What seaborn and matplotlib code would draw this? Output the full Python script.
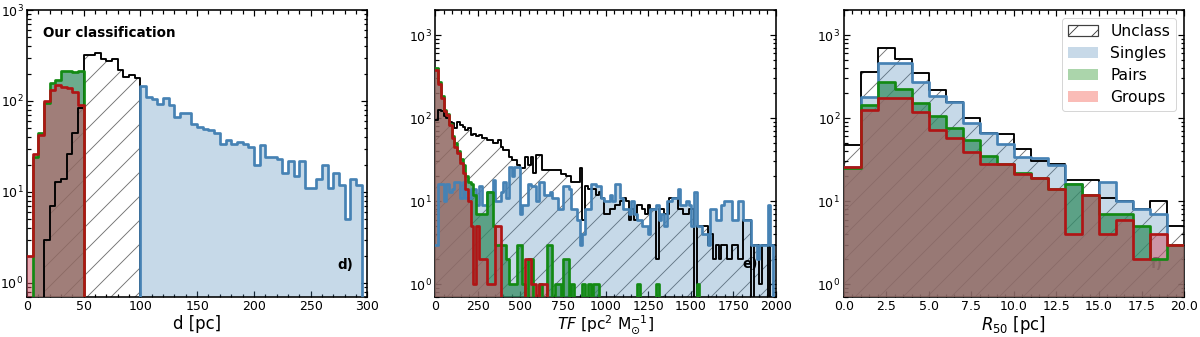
import numpy as np
import matplotlib
matplotlib.use("Agg")
import matplotlib.pyplot as plt
from matplotlib.patches import Patch
from matplotlib.ticker import AutoMinorLocator, LogLocator, NullFormatter
import seaborn as sns

# ---------------- data (counts per bin) ----------------
# panel d: distance, 5 pc bins from 0 to 300
d_bins = (0, 300, 5)
d_unclass = [0, 0, 0, 3, 7, 13, 14, 26, 45, 83,
             320, 320, 340, 287, 275, 287, 218, 185, 193, 178]
d_singles_start = 20  # singles begin at 100 pc
d_singles = [147, 111, 104, 93, 108, 90, 67, 73, 73, 56,
             52, 49, 48, 45, 34, 37, 34, 35, 34, 31,
             20, 33, 24, 24, 23, 16, 22, 15, 22, 11,
             11, 14, 20, 11, 16, 12, 5, 14, 12]
d_pairs = [0, 24, 45, 95, 156, 170, 214, 214, 208, 214]
d_groups = [2, 26, 42, 100, 132, 150, 144, 140, 126, 90]

# panel e: TF, 16 pc^2/Msun bins from 0 to 2000
e_bins = (0, 2000, 16)
e_unclass = [95, 125, 120, 105, 100, 90, 86, 75, 90, 83,
             78, 72, 75, 63, 65, 60, 63, 57, 57, 54,
             54, 50, 50, 55, 45, 41, 41, 34, 31, 31,
             27, 25, 25, 34, 27, 34, 22, 36, 36, 24,
             24, 24, 24, 24, 24, 24, 21, 21, 20, 20,
             17, 17, 17, 25, 6, 15, 14, 14, 14, 12,
             13, 11, 7, 7, 8, 8, 9, 9, 10, 11,
             10, 6, 8, 6, 9, 9, 8, 7, 9, 8,
             8, 2, 8, 8, 7, 7, 11, 11, 11, 8,
             8, 7, 7, 8, 8, 0, 5, 5, 5, 5,
             3, 4, 2, 3, 2, 3, 3, 2, 2, 3,
             3, 2, 2, 6, 6, 6, 0, 3, 3, 1,
             3, 3, 0, 3, 3]
e_singles = [3, 16, 16, 10, 16, 13, 14, 17, 17, 11,
             17, 11, 11, 14, 14, 9, 15, 9, 9, 13,
             13, 18, 10, 10, 13, 17, 11, 26, 20, 26,
             26, 7, 9, 9, 16, 15, 15, 10, 17, 17,
             12, 12, 13, 11, 11, 8, 8, 15, 15, 14,
             8, 8, 6, 3, 4, 8, 8, 16, 16, 15,
             15, 11, 10, 10, 12, 10, 16, 16, 11, 8,
             8, 7, 10, 7, 6, 6, 5, 5, 4, 8,
             8, 9, 6, 7, 5, 10, 10, 11, 11, 14,
             9, 9, 10, 9, 5, 13, 5, 5, 4, 4,
             3, 8, 8, 6, 6, 9, 10, 10, 10, 6,
             6, 10, 10, 6, 6, 6, 3, 3, 2, 3,
             3, 3, 9, 3, 0]
e_pairs = [400, 270, 185, 125, 112, 85, 60, 50, 40, 32,
           27, 20, 17, 16, 12, 7, 7, 7, 7, 13,
           13, 5, 3, 3, 3, 3, 2, 1, 1, 1,
           3, 3, 1, 0, 2, 2, 0, 0, 1, 0,
           0, 3, 3, 0, 1, 1, 0, 2, 2, 0,
           1, 0, 0, 0, 1, 0, 1, 0, 1, 1,
           0, 0, 0, 0, 0, 0, 0, 0, 0, 0,
           0, 0, 0, 0, 1, 0, 0, 0, 0, 0,
           0, 1, 0, 0, 0, 0, 0, 0, 0, 0,
           0, 0, 0, 0, 0, 0, 1]
e_groups = [380, 260, 175, 120, 108, 82, 57, 45, 38, 29,
            22, 14, 10, 5, 1, 5, 2, 2, 2, 1,
            1, 1, 5, 5, 0, 0, 0, 0, 0, 0,
            0, 0, 0, 2, 2, 1, 1, 0, 1, 1,
            1]

# panel f: R50, 1 pc bins from 0 to 20
f_bins = (0, 20, 1)
f_unclass = [47, 360, 690, 520, 345, 215, 157, 99, 66, 64,
             42, 30, 28, 18, 18, 11, 10, 8, 10, 5]
f_singles = [26, 181, 464, 464, 275, 185, 157, 88, 66, 49,
             34, 33, 27, 16, 12, 17, 10, 8, 7, 3]
f_pairs = [25, 143, 275, 221, 150, 106, 75, 55, 35, 28,
           22, 19, 14, 16, 12, 7, 7, 5, 2, 3]
f_groups = [26, 125, 176, 176, 119, 72, 57, 39, 28, 28,
            21, 19, 14, 4, 12, 4, 6, 2, 4, 3]

# ---------------- style ----------------
SINGLES = "#4682b4"
PAIRS = "#138a13"
GROUPS = "#b01515"
SINGLES_FILL = (0.27, 0.51, 0.71, 0.3)
PAIRS_FILL = (0.2, 0.55, 0.38, 0.72)
GROUPS_FILL = (0.83, 0.32, 0.40, 0.5)
HATCH_GREY = (0.45, 0.45, 0.45)

plt.rcParams["hatch.linewidth"] = 0.9


def hist(ax, bins, counts, start=0, **kws):
    lo, hi, width = bins
    mids = np.arange(lo, hi, width) + width / 2
    # one sample per counted object, at the centre of its bin
    values = np.repeat(mids[start:start + len(counts)], counts)
    sns.histplot(x=values, binwidth=width, binrange=(lo, hi),
                 element="step", ax=ax, **kws)


def panel(ax, bins, unclass, singles, pairs, groups, singles_start=0):
    ax.set_yscale("log")
    hist(ax, bins, unclass, color=HATCH_GREY, fill=True, facecolor="none",
         edgecolor=HATCH_GREY, linewidth=0, hatch="/", zorder=1)
    hist(ax, bins, singles, singles_start, color=SINGLES, fill=True,
         facecolor=SINGLES_FILL, edgecolor="none", linewidth=0, zorder=2)
    hist(ax, bins, pairs, color=PAIRS, fill=True, facecolor=PAIRS_FILL,
         edgecolor="none", linewidth=0, zorder=3)
    hist(ax, bins, groups, color=GROUPS, fill=True, facecolor=GROUPS_FILL,
         edgecolor="none", linewidth=0, zorder=4)
    hist(ax, bins, unclass, fill=False, color="black", linewidth=1.9, zorder=5)
    hist(ax, bins, singles, singles_start, fill=False, color=SINGLES,
         linewidth=2.7, zorder=6)
    hist(ax, bins, pairs, fill=False, color=PAIRS, linewidth=2.7, zorder=6.1)
    hist(ax, bins, groups, fill=False, color=GROUPS, linewidth=2.7, zorder=6.2)
    ax.set_ylabel("")


def style_axes(ax, xmax, ymax):
    ax.set_xlim(0, xmax)
    ax.set_ylim(0.7, ymax)
    ax.xaxis.set_minor_locator(AutoMinorLocator(5))
    ax.yaxis.set_major_locator(LogLocator(base=10, numticks=10))
    ax.yaxis.set_minor_locator(LogLocator(base=10, subs=np.arange(2, 10), numticks=20))
    ax.yaxis.set_minor_formatter(NullFormatter())
    ax.tick_params(which="both", direction="in", top=True, right=True,
                   labelsize=12.5, width=1.2)
    ax.tick_params(which="major", length=6)
    ax.tick_params(which="minor", length=3.5)
    for sp in ax.spines.values():
        sp.set_linewidth(1.6)


# 72 dpi so that the single '/' hatch has ~12 px spacing
fig, axes = plt.subplots(1, 3, figsize=(1200 / 72, 337 / 72), dpi=72)
fig.subplots_adjust(left=0.0225, right=0.9867, bottom=0.1187, top=0.9703, wspace=0.2)

ax = axes[0]
panel(ax, d_bins, d_unclass, d_singles, d_pairs, d_groups, d_singles_start)
style_axes(ax, 300, 1000)
ax.set_xlabel("d [pc]", fontsize=16.5, labelpad=2)
ax.text(0.047, 0.92, "Our classification", transform=ax.transAxes,
        fontsize=13.5, fontweight="bold", va="center", zorder=10)
ax.text(0.935, 0.11, "d)", transform=ax.transAxes, fontsize=13.5,
        fontweight="bold", ha="center", va="center", zorder=10)

ax = axes[1]
panel(ax, e_bins, e_unclass, e_singles, e_pairs, e_groups)
style_axes(ax, 2000, 2000)
ax.set_xlabel(r"$TF$ [pc$^2$ M$_{\odot}^{-1}$]", fontsize=15.5, labelpad=0)
ax.text(0.925, 0.115, "e)", transform=ax.transAxes, fontsize=13.5,
        fontweight="bold", ha="center", va="center", zorder=5.5)

ax = axes[2]
panel(ax, f_bins, f_unclass, f_singles, f_pairs, f_groups)
style_axes(ax, 20, 2000)
ax.set_xlabel(r"$R_{50}$ [pc]", fontsize=16.5, labelpad=1)
ax.text(0.92, 0.115, "f)", transform=ax.transAxes, fontsize=13.5,
        fontweight="bold", ha="center", va="center", color="0.3", zorder=1.5)

handles = [
    Patch(facecolor="white", edgecolor="0.25", hatch="/", linewidth=1.2),
    Patch(facecolor=SINGLES, alpha=0.3, edgecolor="none"),
    Patch(facecolor="green", alpha=0.33, edgecolor="none"),
    Patch(facecolor=(0.95, 0.25, 0.2), alpha=0.35, edgecolor="none"),
]
axes[2].legend(handles, ["Unclass", "Singles", "Pairs", "Groups"],
               loc="upper right", fontsize=15.5, handlelength=1.9,
               labelspacing=0.45)

fig.savefig("out.png", dpi=72)
plt.close(fig)
